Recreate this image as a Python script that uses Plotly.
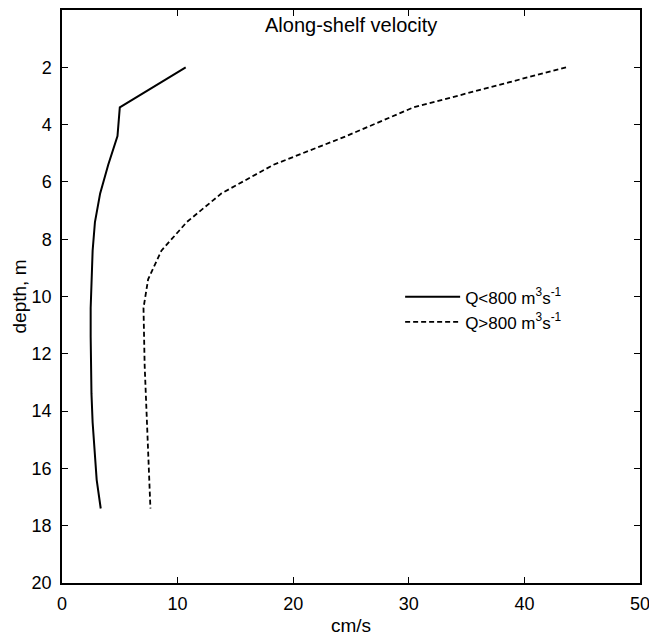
import plotly.graph_objects as go

# depth levels (m) and along-shelf velocity (cm/s)
depth = [2.0, 3.4, 4.4, 5.4, 6.4, 7.4, 8.4, 9.4, 10.4, 11.4, 12.4, 13.4, 14.4, 15.4, 16.4, 17.4]
v_low = [10.7, 5.0, 4.8, 4.0, 3.3, 2.85, 2.65, 2.55, 2.48, 2.48, 2.5, 2.55, 2.65, 2.8, 3.0, 3.35]
v_high = [43.6, 30.4, 24.6, 18.3, 13.8, 10.8, 8.6, 7.45, 7.05, 7.08, 7.15, 7.25, 7.35, 7.45, 7.55, 7.65]

x_ticks = [0, 10, 20, 30, 40, 50]
y_ticks = [2, 4, 6, 8, 10, 12, 14, 16, 18, 20]

fig = go.Figure()
fig.add_trace(go.Scatter(x=v_low, y=depth, mode="lines",
                         line=dict(color="black", width=2),
                         name="Q<800 m<sup>3</sup>s<sup>-1</sup>"))
fig.add_trace(go.Scatter(x=v_high, y=depth, mode="lines",
                         line=dict(color="black", width=1.8, dash="5px,3px"),
                         name="Q>800 m<sup>3</sup>s<sup>-1</sup>"))

axis_style = dict(showline=True, linecolor="black", linewidth=1.5, mirror="allticks",
                  ticks="inside", ticklen=6, tickcolor="black", showgrid=False,
                  zeroline=False, automargin=False, ticklabeloverflow="allow",
                  tickfont=dict(size=18, color="black"))

fig.update_xaxes(range=[0, 50], tickvals=x_ticks, ticklabelstandoff=4,
                 title=dict(text="cm/s", font=dict(size=19, color="black"), standoff=6),
                 **axis_style)
fig.update_yaxes(range=[20, 0], tickvals=y_ticks, ticklabelstandoff=5,
                 title=dict(text="depth, m", font=dict(size=19, color="black"), standoff=0),
                 **axis_style)

fig.add_annotation(text="Along-shelf velocity", x=0.5, y=0.997, xref="paper", yref="paper",
                   xanchor="center", yanchor="top", showarrow=False,
                   font=dict(size=20, color="black"))

fig.update_layout(
    width=649, height=636,
    margin=dict(l=62, r=9, t=10, b=53),
    plot_bgcolor="white", paper_bgcolor="white",
    font=dict(family="Liberation Sans, Arial, sans-serif", color="black"),
    legend=dict(x=0.585, y=0.53, xanchor="left", yanchor="top", itemwidth=55,
                bgcolor="rgba(0,0,0,0)", font=dict(size=17), tracegroupgap=6),
)

# drop the page's default body margin so the figure sits at the window corner
fig.write_html("out.html", config={"displayModeBar": False},
               post_script="document.body.style.margin='0';")
